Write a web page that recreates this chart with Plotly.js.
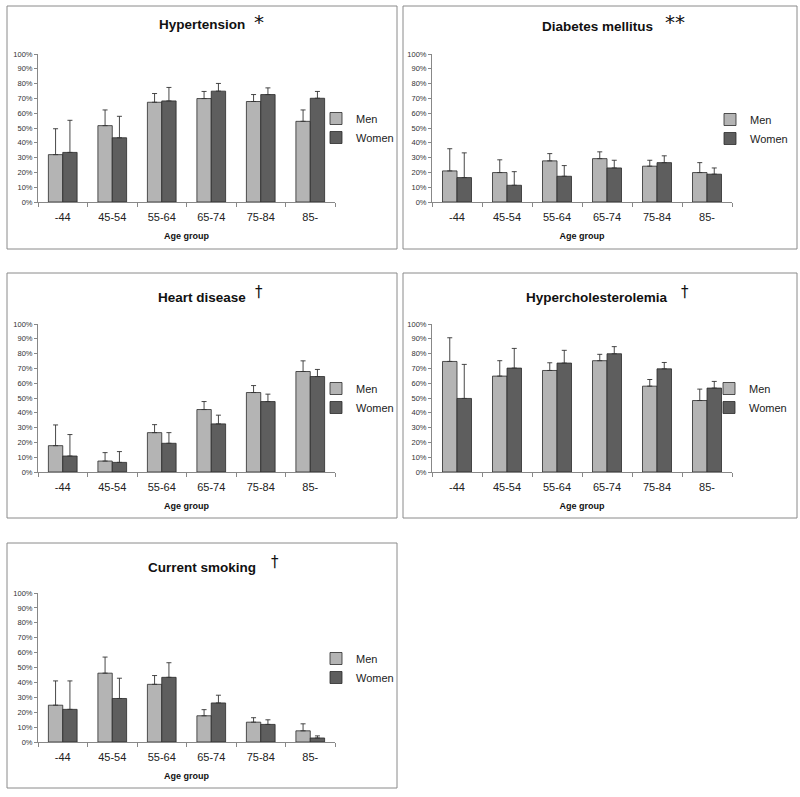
<!DOCTYPE html>
<html>
<head>
<meta charset="utf-8">
<script src="https://cdn.plot.ly/plotly-3.0.1.min.js"></script>
<style>html,body{margin:0;padding:0;background:#fff}#chart{width:800px;height:797px}</style>
</head>
<body>
<div id="chart"></div>
<script>
// ---- data ----
const categories = ['-44', '45-54', '55-64', '65-74', '75-84', '85-'];
const seriesNames = ['Men', 'Women'];
const panelTitles = ['Hypertension', 'Diabetes mellitus', 'Heart disease', 'Hypercholesterolemia', 'Current smoking'];
const panelMarks = ['*', '**', '\u2020', '\u2020', '\u2020'];
const yTickValues = [0, 0.1, 0.2, 0.3, 0.4, 0.5, 0.6, 0.7, 0.8, 0.9, 1.0];

// prevalence (fraction) and upper bound of error bar
const hypertensionMen = [0.32, 0.516, 0.674, 0.699, 0.679, 0.545];
const hypertensionMenUpper = [0.495, 0.622, 0.733, 0.747, 0.726, 0.622];
const hypertensionWomen = [0.335, 0.434, 0.683, 0.749, 0.726, 0.701];
const hypertensionWomenUpper = [0.552, 0.579, 0.774, 0.801, 0.771, 0.747];

const diabetesMen = [0.21, 0.199, 0.278, 0.293, 0.242, 0.199];
const diabetesMenUpper = [0.36, 0.285, 0.327, 0.339, 0.282, 0.266];
const diabetesWomen = [0.165, 0.113, 0.174, 0.23, 0.266, 0.188];
const diabetesWomenUpper = [0.332, 0.205, 0.246, 0.282, 0.312, 0.23];

const heartMen = [0.178, 0.074, 0.266, 0.422, 0.537, 0.679];
const heartMenUpper = [0.318, 0.131, 0.32, 0.476, 0.584, 0.751];
const heartWomen = [0.108, 0.065, 0.194, 0.325, 0.476, 0.645];
const heartWomenUpper = [0.253, 0.138, 0.266, 0.384, 0.526, 0.693];

const cholMen = [0.747, 0.648, 0.686, 0.752, 0.58, 0.483];
const cholMenUpper = [0.907, 0.752, 0.738, 0.795, 0.625, 0.56];
const cholWomen = [0.497, 0.702, 0.736, 0.799, 0.697, 0.567];
const cholWomenUpper = [0.727, 0.835, 0.822, 0.847, 0.74, 0.612];

const smokingMen = [0.247, 0.462, 0.387, 0.176, 0.133, 0.075];
const smokingMenUpper = [0.41, 0.57, 0.446, 0.217, 0.163, 0.122];
const smokingWomen = [0.219, 0.292, 0.434, 0.262, 0.118, 0.027];
const smokingWomenUpper = [0.41, 0.428, 0.532, 0.314, 0.149, 0.041];

const panelMen = [hypertensionMen, diabetesMen, heartMen, cholMen, smokingMen];
const panelMenUpper = [hypertensionMenUpper, diabetesMenUpper, heartMenUpper, cholMenUpper, smokingMenUpper];
const panelWomen = [hypertensionWomen, diabetesWomen, heartWomen, cholWomen, smokingWomen];
const panelWomenUpper = [hypertensionWomenUpper, diabetesWomenUpper, heartWomenUpper, cholWomenUpper, smokingWomenUpper];

// ---- layout geometry (pixels) ----
const W = 800, H = 797;
const FONT = 'Liberation Sans, Arial, sans-serif';
const plotBoxes = [ // [left, right, top(100%), bottom(0%)]
  [38, 335, 54, 202],
  [432, 732, 54, 202],
  [38, 335, 324, 472],
  [432, 732, 324, 472],
  [38, 335, 593, 742]
];
const frames = [ // [x0, x1, y0, y1]
  [7, 397, 6, 249],
  [403, 797, 6, 249],
  [7, 397, 273, 518],
  [403, 797, 273, 518],
  [7, 397, 543, 788]
];
const titlePos = [ // [titleCenterX, titleY, markX, markY]
  [202, 25, 259, 22],
  [597, 26, 675, 22],
  [202, 297, 259, 292],
  [597, 297, 685, 292],
  [202, 567, 275, 562]
];
const legendPos = [ // [left, centerY]
  [316, 128], [710, 129], [316, 398], [709, 398], [316, 668]
];
const px = x => x / W;
const py = y => 1 - y / H;

const colors = { Men: '#b4b4b4', Women: '#5e5e5e' };

const traces = [];
const layout = {
  width: W, height: H,
  margin: { l: 0, r: 0, t: 0, b: 0 },
  paper_bgcolor: '#fff', plot_bgcolor: '#fff',
  font: { family: FONT, color: '#222' },
  barmode: 'group', bargap: 0.42, bargroupgap: 0,
  annotations: [], shapes: []
};

for (let i = 0; i < 5; i++) {
  const sfx = i === 0 ? '' : String(i + 1);
  const xa = 'x' + sfx, ya = 'y' + sfx;
  const lg = 'legend' + sfx;
  const vals = [panelMen[i], panelWomen[i]];
  const ups = [panelMenUpper[i], panelWomenUpper[i]];
  seriesNames.forEach((nm, k) => {
    traces.push({
      type: 'bar', name: nm, x: categories, y: vals[k],
      xaxis: xa, yaxis: ya, legend: lg, showlegend: true,
      marker: { color: colors[nm], line: { color: '#2a2a2a', width: 0.8 } },
      error_y: {
        type: 'data', symmetric: false,
        array: ups[k].map((u, j) => Math.max(0, u - vals[k][j])),
        arrayminus: vals[k].map(() => 0),
        color: '#333', thickness: 0.9, width: 2.5
      },
      hoverinfo: 'x+y+name'
    });
  });
  const b = plotBoxes[i];
  layout['xaxis' + sfx] = {
    domain: [px(b[0]), px(b[1])], anchor: ya,
    type: 'category', showgrid: false, zeroline: false,
    showline: true, linecolor: '#888', linewidth: 1,
    ticks: 'outside', tickson: 'boundaries', ticklen: 4, tickcolor: '#888',
    ticklabelstandoff: 5,
    tickfont: { family: FONT, size: 11, color: '#222' },
    title: { text: 'Age group', font: { family: FONT, size: 9, color: '#111', weight: 'bold' }, standoff: 10 },
    fixedrange: true
  };
  layout['yaxis' + sfx] = {
    domain: [py(b[3]), py(b[2])], anchor: xa,
    range: [0, 1], tickvals: yTickValues, tickformat: '.0%',
    showgrid: false, zeroline: false,
    showline: true, linecolor: '#888', linewidth: 1,
    ticks: 'outside', ticklen: 3, tickcolor: '#888',
    tickfont: { family: FONT, size: 7.5, color: '#333' },
    fixedrange: true
  };
  const lp = legendPos[i];
  layout[lg] = {
    x: px(lp[0]), y: py(lp[1]), xanchor: 'left', yanchor: 'middle',
    xref: 'paper', yref: 'paper',
    font: { family: FONT, size: 11, color: '#222' },
    bgcolor: 'rgba(0,0,0,0)', borderwidth: 0, tracegroupgap: 0
  };
  const f = frames[i];
  layout.shapes.push({
    type: 'rect', xref: 'paper', yref: 'paper',
    x0: px(f[0]), x1: px(f[1]), y0: py(f[3]), y1: py(f[2]),
    line: { color: '#8a8a8a', width: 1 }, fillcolor: 'rgba(0,0,0,0)'
  });
  const t = titlePos[i];
  layout.annotations.push({
    xref: 'paper', yref: 'paper', x: px(t[0]), y: py(t[1]),
    xanchor: 'center', yanchor: 'middle', showarrow: false,
    text: '<b>' + panelTitles[i] + '</b>',
    font: { family: FONT, size: 13.5, color: '#111' }
  });
  layout.annotations.push({
    xref: 'paper', yref: 'paper', x: px(t[2]), y: py(t[3]),
    xanchor: 'center', yanchor: 'middle', showarrow: false,
    text: panelMarks[i],
    font: { family: 'DejaVu Sans, sans-serif', size: i < 2 ? 20 : 15, color: '#111' }
  });
}

Plotly.newPlot('chart', traces, layout, { displayModeBar: false, staticPlot: true });
</script>
</body>
</html>
